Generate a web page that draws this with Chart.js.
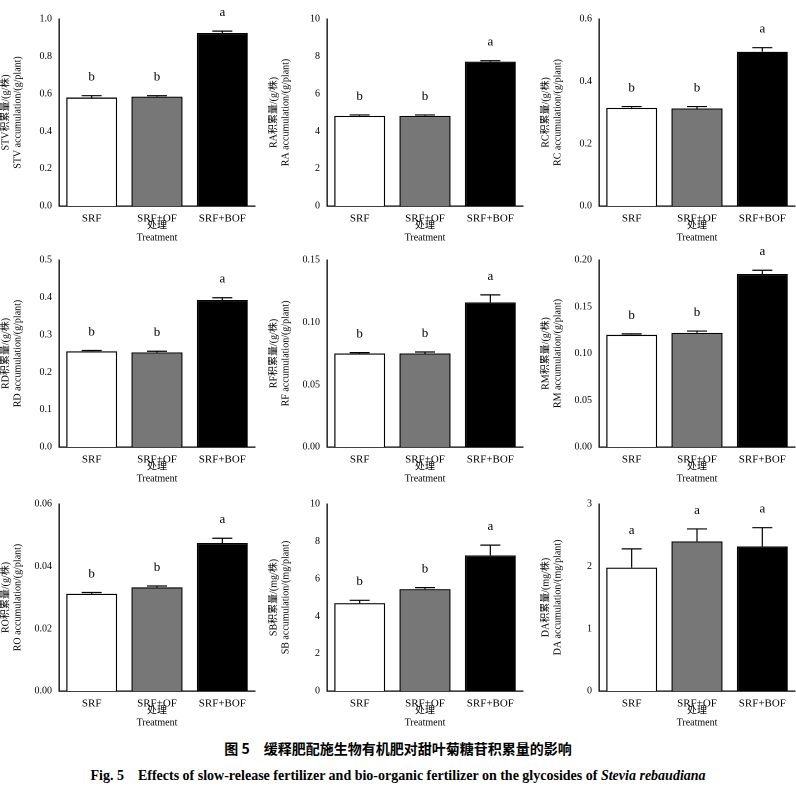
<!DOCTYPE html>
<html><head><meta charset="utf-8">
<script src="https://cdn.jsdelivr.net/npm/chart.js@4"></script>
<style>
body{margin:0;background:#fff;width:796px;height:795px;position:relative;overflow:hidden;font-family:"Liberation Serif","Noto Sans CJK SC",serif}
canvas{position:absolute}
.cap{position:absolute;left:0;width:796px;text-align:center;font-weight:bold}
</style></head><body>
<div class="cap" style="top:738px;font-size:14px;font-family:'Noto Sans CJK SC'">图 5　缓释肥配施生物有机肥对甜叶菊糖苷积累量的影响</div>
<div class="cap" style="top:764px;font-size:14px">Fig. 5　Effects of slow-release fertilizer and bio-organic fertilizer on the glycosides of <i>Stevia rebaudiana</i></div>
<script>
const treatments = ['SRF', 'SRF+OF', 'SRF+BOF'];
const names = ['STV', 'RA', 'RC', 'RD', 'RF', 'RM', 'RO', 'SB', 'DA'];
const units = ['g', 'g', 'g', 'g', 'g', 'g', 'g', 'mg', 'mg'];
const means = [
  [0.580, 0.585, 0.925], [4.82, 4.82, 7.72], [0.315, 0.313, 0.495],
  [0.256, 0.253, 0.393], [0.0750, 0.0750, 0.116], [0.120, 0.122, 0.185],
  [0.0312, 0.0333, 0.0475], [4.70, 5.45, 7.25], [1.98, 2.40, 2.32]
];
const errors = [
  [0.010, 0.005, 0.010], [0.05, 0.05, 0.05], [0.004, 0.006, 0.013],
  [0.002, 0.003, 0.006], [0.0007, 0.0012, 0.006], [0.001, 0.002, 0.004],
  [0.0004, 0.0004, 0.0015], [0.15, 0.08, 0.55], [0.30, 0.20, 0.30]
];
const letters = [
  ['b', 'b', 'a'], ['b', 'b', 'a'], ['b', 'b', 'a'], ['b', 'b', 'a'], ['b', 'b', 'a'],
  ['b', 'b', 'a'], ['b', 'b', 'a'], ['b', 'b', 'a'], ['a', 'a', 'a']
];
const yMax = [1.0, 10, 0.6, 0.5, 0.15, 0.20, 0.06, 10, 3];
const yStep = [0.2, 2, 0.2, 0.1, 0.05, 0.05, 0.02, 2, 1];
const yDecimals = [1, 0, 1, 1, 2, 2, 2, 0, 0];

const colLeft = [0, 268, 540];
const rowTop = [8, 249, 493];
const font = {family: '"Liberation Serif","Noto Sans CJK SC"', size: 11};

// error bars and significance letters
const errPlugin = {
  id: 'err',
  afterDatasetsDraw(chart, args, opts) {
    const ctx = chart.ctx, y = chart.scales.y;
    chart.getDatasetMeta(0).data.forEach((bar, i) => {
      const top = y.getPixelForValue(opts.means[i] + opts.errors[i]);
      ctx.save();
      ctx.strokeStyle = '#000'; ctx.lineWidth = 1.2;
      ctx.beginPath();
      ctx.moveTo(bar.x, bar.y); ctx.lineTo(bar.x, top);
      ctx.moveTo(bar.x - 10, top); ctx.lineTo(bar.x + 10, top);
      ctx.stroke();
      ctx.fillStyle = '#000';
      ctx.font = '13px "Liberation Serif"';
      ctx.textAlign = 'center'; ctx.textBaseline = 'bottom';
      ctx.fillText(opts.letters[i], bar.x, top - 12);
      ctx.restore();
    });
  }
};

names.forEach((name, k) => {
  const c = document.createElement('canvas');
  c.width = 262; c.height = 240;
  c.style.left = colLeft[k % 3] + 'px';
  c.style.top = rowTop[Math.floor(k / 3)] + 'px';
  document.body.appendChild(c);
  new Chart(c, {
    type: 'bar',
    data: {
      labels: treatments,
      datasets: [{
        data: means[k],
        backgroundColor: ['#fff', '#777', '#000'],
        borderColor: '#000', borderWidth: 1.3,
        barPercentage: 0.78, categoryPercentage: 1
      }]
    },
    options: {
      responsive: false, animation: false,
      devicePixelRatio: 2,
      layout: {padding: {top: 11, right: 7, left: 0, bottom: 0}},
      plugins: {
        legend: {display: false}, tooltip: {enabled: false},
        err: {means: means[k], errors: errors[k], letters: letters[k]}
      },
      scales: {
        x: {
          grid: {display: false, drawTicks: false},
          border: {color: '#000', width: 1.3},
          ticks: {color: '#000', font: font, padding: 6},
          title: {display: true, text: ['处理', 'Treatment'], color: '#000', font: {...font, size: 10}, padding: {top: 4}},
          afterFit(s) { s.height = 42; }
        },
        y: {
          min: 0, max: yMax[k],
          grid: {display: false, drawTicks: true, tickLength: 4},
          border: {color: '#000', width: 1.3},
          ticks: {stepSize: yStep[k], color: '#000', font: {...font, size: 10}, padding: 3,
            callback: v => v.toFixed(yDecimals[k])},
          title: {display: true, color: '#000', font: {...font, size: 10}, padding: 0,
            text: [name + '积累量/(' + units[k] + '/株)', name + ' accumulation/(' + units[k] + '/plant)']},
          afterFit(s) { s.width = 59; }
        }
      }
    },
    plugins: [errPlugin]
  });
});
</script>
</body></html>
